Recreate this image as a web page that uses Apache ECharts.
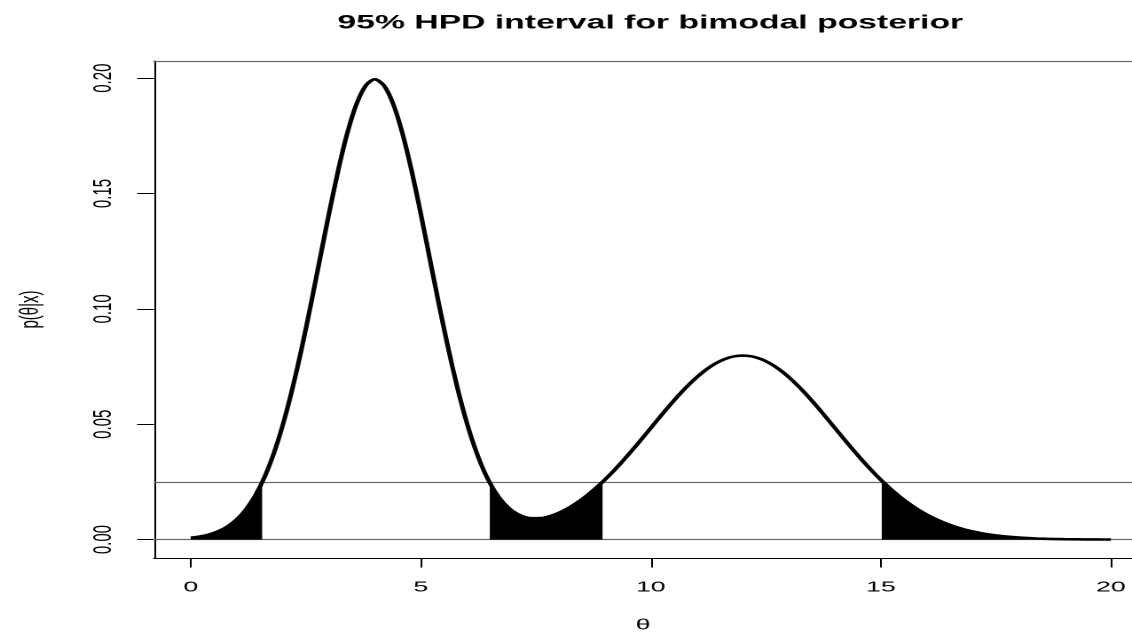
<!DOCTYPE html>
<html><head><meta charset="utf-8">
<script src="https://cdn.jsdelivr.net/npm/echarts@6/dist/echarts.min.js"></script>
<style>
html,body{margin:0;padding:0;background:#fff;overflow:hidden;width:1132px;height:638px}
#c{width:638px;height:638px;transform:scaleX(1.774295);transform-origin:0 0;}
</style>
</head><body><div id="c"></div>
<script>
// theta grid (x) and posterior density
const theta = [0,0.2,0.4,0.6,0.8,1,1.2,1.4,1.6,1.8,2,2.2,2.4,2.6,2.8,3,3.2,3.4,3.6,3.8,
  4,4.2,4.4,4.6,4.8,5,5.2,5.4,5.6,5.8,6,6.2,6.4,6.6,6.8,7,7.2,7.4,7.6,7.8,
  8,8.2,8.4,8.6,8.8,9,9.2,9.4,9.6,9.8,10,10.2,10.4,10.6,10.8,11,11.2,11.4,11.6,11.8,
  12,12.2,12.4,12.6,12.8,13,13.2,13.4,13.6,13.8,14,14.2,14.4,14.6,14.8,15,15.2,15.4,15.6,15.8,
  16,16.2,16.4,16.6,16.8,17,17.2,17.4,17.6,17.8,18,18.2,18.4,18.6,18.8,19,19.2,19.4,19.6,19.8,20];
const density = [0.000771,0.001325,0.002216,0.003603,0.005698,0.008764,0.013110,0.019078,0.026995,0.037155,
  0.049738,0.064758,0.082004,0.101002,0.120987,0.140963,0.159729,0.176039,0.188702,0.196737,
  0.199497,0.196759,0.188748,0.176116,0.159846,0.141135,0.121231,0.101347,0.082481,0.065411,
  0.050624,0.038346,0.028578,0.021162,0.015827,0.012270,0.010177,0.009268,0.009311,0.010122,
  0.011569,0.013559,0.016030,0.018939,0.022251,0.025938,0.029963,0.034282,0.038841,0.043573,
  0.048394,0.053217,0.057939,0.062451,0.066645,0.070414,0.073655,0.076278,0.078209,0.079391,
  0.079789,0.079391,0.078209,0.076278,0.073655,0.070414,0.066645,0.062451,0.057939,0.053217,
  0.048394,0.043571,0.038837,0.034274,0.029946,0.025904,0.022184,0.018810,0.015790,0.013123,
  0.010798,0.008797,0.007095,0.005665,0.004479,0.003506,0.002717,0.002084,0.001583,0.001191,
  0.000886,0.000653,0.000477,0.000345,0.000246,0.000175,0.000122,0.000085,0.000058,0.000040,0.000027];
const xTicks = [0,5,10,15,20];
const yTicks = [0,0.05,0.1,0.15,0.2];
const hpdCut = 0.025;
const tailRegions = [[0,1.55],[6.50,8.95],[15.02,20]];

const curve = theta.map((t,i)=>[t,density[i]]);
function regionData(a,b){
  const pts = curve.filter(p=>p[0]>=a && p[0]<=b);
  if (!theta.includes(a)) pts.unshift([a,hpdCut]);
  if (!theta.includes(b)) pts.push([b,hpdCut]);
  return pts;
}
const FONT = 'Liberation Sans';
const chart = echarts.init(document.getElementById('c'), null, {devicePixelRatio: 2});
const tailSeries = tailRegions.map(r=>({
  type:'line', data: regionData(r[0],r[1]), showSymbol:false, smooth:0.3,
  lineStyle:{width:0}, areaStyle:{color:'#000',opacity:1}, z:2, silent:true
}));
const X_MIN = -0.8, X_MAX = 20.46;
chart.setOption({
  animation:false,
  backgroundColor:'#fff',
  title:{text:'95% HPD interval for bimodal posterior', left:361.5, top:9, textAlign:'center',
    textStyle:{fontFamily:FONT, fontWeight:'bold', fontSize:19, color:'#000'}},
  grid:{left:86.8, right:0, top:61, bottom:77, containLabel:false},
  xAxis:[{
    type:'value', min:X_MIN, max:X_MAX, position:'bottom',
    name:'θ', nameLocation:'middle', nameGap:60,
    nameTextStyle:{fontFamily:FONT, fontSize:15, color:'#000'},
    axisLine:{show:true, onZero:false, lineStyle:{color:'#000', width:1}},
    axisTick:{show:true, length:9.5, customValues:xTicks, lineStyle:{color:'#000', width:1}},
    axisLabel:{show:true, customValues:xTicks, margin:22, fontFamily:FONT, fontSize:15, color:'#000',
      formatter:v=>String(v)},
    splitLine:{show:false}
  },{
    type:'value', min:X_MIN, max:X_MAX, position:'top',
    axisLine:{show:true, onZero:false, lineStyle:{color:'#6a6a6a', width:1.2}},
    axisTick:{show:false}, axisLabel:{show:false}, splitLine:{show:false}
  }],
  yAxis:{
    type:'value', min:-0.00798, max:0.20745,
    name:'p(θ|x)', nameLocation:'middle', nameGap:62, nameRotate:90,
    nameTextStyle:{fontFamily:FONT, fontSize:15, color:'#000'},
    axisLine:{show:true, onZero:false, lineStyle:{color:'#000', width:1}},
    axisTick:{show:true, length:9.5, customValues:yTicks, lineStyle:{color:'#000', width:1}},
    axisLabel:{show:true, customValues:yTicks, rotate:90, margin:21, fontFamily:FONT, fontSize:15, color:'#000',
      formatter:v=>v.toFixed(2)},
    splitLine:{show:false}
  },
  series:[
    ...tailSeries,
    {type:'line', data:curve, showSymbol:false, smooth:0.3, z:3, silent:true,
      lineStyle:{color:'#000', width:2.6},
      markLine:{silent:true, symbol:['none','none'], label:{show:false}, z:1, precision:6,
        lineStyle:{color:'#6a6a6a', width:1.2, type:'solid'},
        data:[{yAxis:0},{yAxis:hpdCut}]}}
  ]
});
</script></body></html>
